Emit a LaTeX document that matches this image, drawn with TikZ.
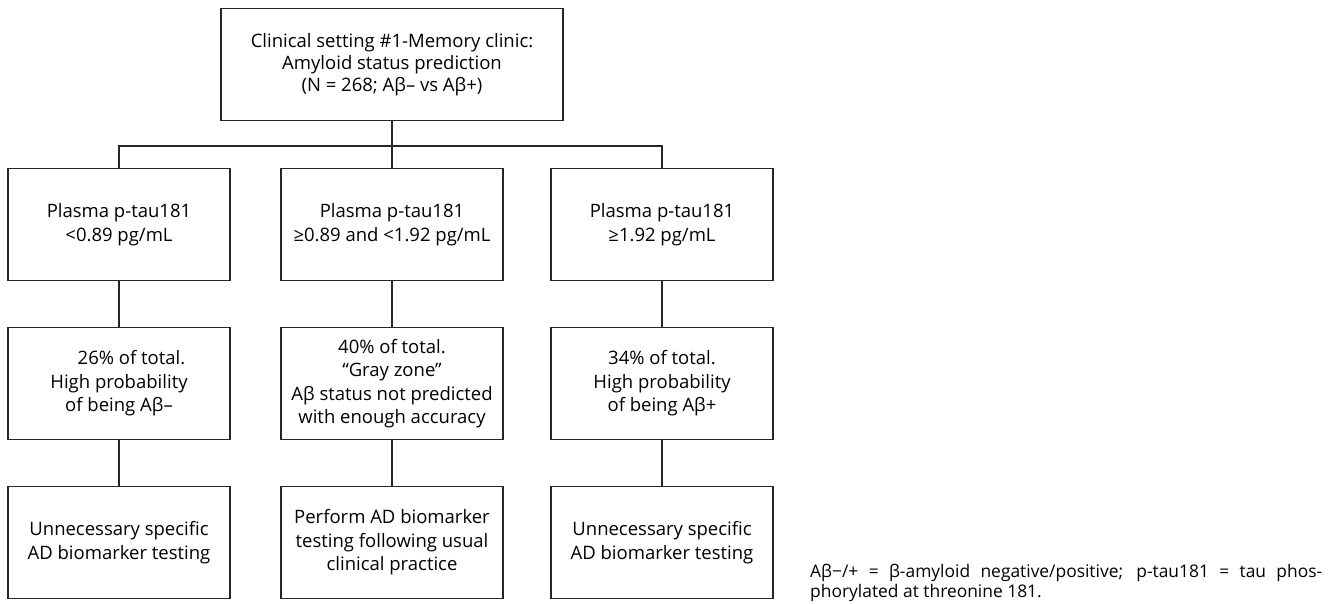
\documentclass[tikz,border=0pt]{standalone}
\usepackage{fontspec}
\setmainfont{Open Sans}
\usepackage{tikz}

\begin{document}
\begin{tikzpicture}[x=1pt,y=-1pt,
	box/.style={draw=black!85,line width=1.3pt,minimum width=222pt,minimum height=112pt,
		inner sep=0pt,align=center,font=\fontsize{18.5}{23.5}\selectfont},
	link/.style={draw=black!85,line width=1.3pt}] % memory clinic decision chart
\useasboundingbox (0,0) rectangle (1333,603);

\node[box,minimum width=342pt,font=\fontsize{18.5}{22}\selectfont] (setting) at (392,64.5)
	{Clinical setting \#1-Memory clinic:\\ Amyloid status prediction\\ (N = 268; Aβ– vs Aβ+)};
\coordinate (split) at (392,146);

\node[box] (cutLow) at (119,224.5) {Plasma p-tau181\\ <0.89 pg/mL};
\node[box] (cutGray) at (392,224.5) {Plasma p-tau181\\ ≥0.89 and <1.92 pg/mL};
\node[box] (cutHigh) at (662,224.5) {Plasma p-tau181\\ ≥1.92 pg/mL};

\node[box] (probLow) at (119,383.5) {\hspace*{25pt}26\% of total.\\ High probability\\ of being Aβ–};
\node[box] (probGray) at (392,383.5) {40\% of total.\\ “Gray zone”\\ Aβ status not predicted\\ with enough accuracy};
\node[box] (probHigh) at (662,383.5) {34\% of total.\\ High probability\\ of being Aβ+};

\node[box] (actLow) at (119,542.5) {Unnecessary specific\\ AD biomarker testing};
\node[box] (actGray) at (392,542.5) {Perform AD biomarker\\ testing following usual\\ clinical practice};
\node[box] (actHigh) at (662,542.5) {Unnecessary specific\\ AD biomarker testing};

\draw[link] (setting) -- (split);
\draw[link] (split) -| (cutLow);
\draw[link] (split) -- (cutGray);
\draw[link] (split) -| (cutHigh);
\foreach \col in {Low,Gray,High} {
	\draw[link] (cut\col) -- (prob\col);
	\draw[link] (prob\col) -- (act\col);
}

\node[anchor=north west,text width=512pt,align=justify,inner sep=0pt,
	font=\fontsize{17.4}{20}\selectfont] (note) at (810,564)
	{Aβ−/+ = β-amyloid negative/positive; p-tau181 = tau phos-\linebreak phorylated at threonine 181.};

\end{tikzpicture}
\end{document}
